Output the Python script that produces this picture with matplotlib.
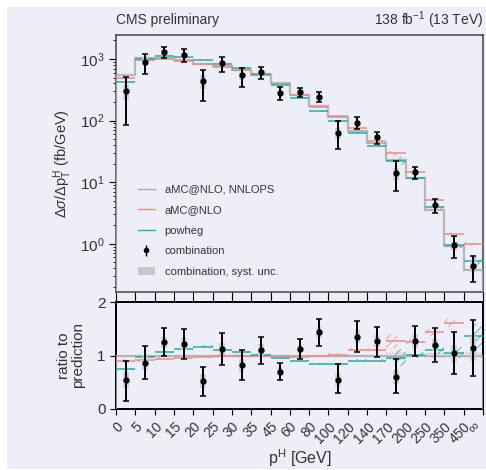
import numpy as np
import matplotlib
matplotlib.use('Agg')
import matplotlib.pyplot as plt
import matplotlib.patches as patches
import matplotlib.transforms as mtransforms
from matplotlib.lines import Line2D

plt.rcParams['font.family'] = ['Liberation Sans', 'DejaVu Sans']
plt.rcParams['mathtext.fontset'] = 'custom'
plt.rcParams['mathtext.rm'] = 'Liberation Sans'
plt.rcParams['mathtext.it'] = 'Liberation Sans:italic'
plt.rcParams['hatch.linewidth'] = 0.7

# bin edges of p_T^H (GeV), drawn equally spaced
bin_labels = ['0', '5', '10', '15', '20', '25', '30', '35', '45', '60', '80',
              '100', '120', '140', '170', '200', '250', '350', '450', '\u221e']

# measured cross section (fb/GeV) and relative errors
data = [300, 903, 1316, 1160, 436, 848, 540, 611, 281, 293, 245, 62, 93, 54, 14, 14.8, 4.25, 0.946, 0.43]
err_up = [0.67, 0.35, 0.21, 0.23, 0.51, 0.26, 0.34, 0.23, 0.23, 0.17, 0.175, 0.57, 0.22, 0.21, 0.55, 0.21, 0.26, 0.39, 0.47]
err_dn = [0.72, 0.36, 0.21, 0.23, 0.52, 0.27, 0.34, 0.23, 0.23, 0.17, 0.175, 0.44, 0.21, 0.23, 0.49, 0.23, 0.26, 0.37, 0.45]
syst = [0.28, 0.15, 0.08, 0.09, 0.25, 0.10, 0.15, 0.10, 0.09, 0.07, 0.07, 0.20, 0.09, 0.09, 0.22, 0.10, 0.10, 0.15, 0.20]

# predictions (fb/GeV)
nnlops = [555, 1043, 1056, 959, 834, 757, 658, 555, 401, 262, 171, 115, 69, 42.5, 23.3, 11.6, 3.55, 0.91, 0.38]
amcnlo = [500, 954, 987, 921, 817, 749, 658, 555, 397, 257, 169, 117, 76.6, 47.2, 29.6, 14.6, 5.08, 1.46, 0.99]
powheg = [416, 1012, 1130, 1084, 972, 833, 704, 561, 385, 236, 144, 97, 62.4, 38.3, 22.4, 11.7, 3.9, 0.96, 0.52]
# relative uncertainties of predictions
nnlops_unc = [0.03, 0.02, 0.02, 0.02, 0.02, 0.02, 0.02, 0.02, 0.02, 0.02, 0.02, 0.02, 0.03, 0.03, 0.08, 0.03, 0.04, 0.05, 0.06]
amcnlo_unc = [0.03, 0.03, 0.03, 0.03, 0.03, 0.03, 0.02, 0.02, 0.02, 0.02, 0.02, 0.03, 0.03, 0.03, 0.10, 0.04, 0.04, 0.05, 0.08]
powheg_unc = [0.02, 0.02, 0.02, 0.02, 0.02, 0.02, 0.02, 0.02, 0.02, 0.02, 0.02, 0.02, 0.03, 0.03, 0.16, 0.05, 0.07, 0.10, 0.16]

c_bg = '#EDEEF7'
c_grey = '#AAAAAA'
c_red = '#F08A8A'
c_teal = '#22B0A8'
c_text = '#333333'

data = np.array(data)
nnlops = np.array(nnlops)
amcnlo = np.array(amcnlo)
powheg = np.array(powheg)
nb = len(data)
edges = np.arange(nb + 1)
centers = edges[:-1] + 0.5

fig = plt.figure(figsize=(4.86, 4.70), dpi=100, facecolor='white')
fig.patches.append(patches.Rectangle((7 / 486, 1 / 470), 1, 462 / 470, transform=fig.transFigure,
                                     fc=c_bg, ec='none', zorder=-10))
ax = fig.add_axes([116 / 486, 1 - 292 / 470, 367 / 486, 257 / 470], facecolor=c_bg)
rax = fig.add_axes([116 / 486, 1 - 409 / 470, 367 / 486, 107 / 470], facecolor=c_bg)


def bands(a, ref, vals, unc, color, x0, x1, hatch):
    for i in range(nb):
        v = vals[i] / ref[i]
        a.add_patch(patches.Rectangle((edges[i] + x0, v * (1 - unc[i])), x1 - x0, 2 * v * unc[i],
                                      fill=False, hatch=hatch, ec=color, lw=0, alpha=0.8, zorder=2))


def draw(a, ref):
    bands(a, ref, nnlops, nnlops_unc, c_grey, 0, 1, '.....')
    bands(a, ref, amcnlo, amcnlo_unc, c_red, 0, 0.55, '////')
    bands(a, ref, powheg, powheg_unc, c_teal, 0.45, 1, '////')
    a.stairs(nnlops / ref, edges, color=c_grey, lw=1.6, alpha=0.8, zorder=3)
    a.hlines(amcnlo / ref, edges[:-1], edges[1:], color=c_red, lw=1.1, zorder=3)
    a.hlines(powheg / ref, edges[:-1], edges[1:], color=c_teal, lw=1.1, zorder=3)
    d = data / ref
    for i in range(nb):
        a.add_patch(patches.Rectangle((centers[i] - 0.15, d[i] * (1 - syst[i])), 0.3, 2 * d[i] * syst[i],
                                      fc='#C8C8C8', ec='none', alpha=0.8, zorder=4))
    a.errorbar(centers, d, yerr=[d * np.array(err_dn), d * np.array(err_up)], fmt='o', color='black',
               ms=3.5, lw=1.4, capsize=2.2, capthick=1.1, zorder=5)


draw(ax, np.ones(nb))
ax.set_yscale('log')
ax.set_ylim(0.165, 2450)
ax.set_xlim(0, nb)
ax.set_xticks(edges)
ax.set_xticklabels([])
ax.tick_params(axis='both', which='both', direction='out', labelsize=11, labelcolor=c_text)
ax.tick_params(axis='y', which='major', length=5)
ax.tick_params(axis='y', which='minor', length=2.5)
ax.tick_params(axis='x', length=4)
for s in ax.spines.values():
    s.set_color('#444444')
    s.set_linewidth(1.1)
ax.set_ylabel(r'$\Delta\sigma/\Delta \mathrm{p}_\mathrm{T}^\mathrm{H}$ (fb/GeV)', fontsize=10.5, color=c_text, labelpad=4)

draw(rax, nnlops)
rax.set_ylim(0, 2)
rax.set_xlim(0, nb)
rax.set_yticks([0, 1, 2])
rax.set_xticks(edges)
rax.set_xticklabels(bin_labels, rotation=45, ha='right', va='top', rotation_mode='anchor', fontsize=10)
rax.tick_params(axis='both', direction='out', labelsize=11, length=4, top=True, labelcolor=c_text)
rax.tick_params(axis='x', labelsize=10)
# keep the last label inside the canvas
last = rax.get_xticklabels()[-1]
last.set_transform(last.get_transform() + mtransforms.ScaledTranslation(-8 / 72, 0, fig.dpi_scale_trans))
for s in rax.spines.values():
    s.set_color('black')
    s.set_linewidth(1.4)
rax.set_ylabel('ratio to\nprediction', fontsize=11, color=c_text, labelpad=9, linespacing=1.0)
rax.set_xlabel(r'$\mathrm{p}^\mathrm{H}$ [GeV]', fontsize=11.5, color=c_text, labelpad=1)

handles = [Line2D([], [], color=c_grey, lw=1),
           Line2D([], [], color=c_red, lw=1),
           Line2D([], [], color=c_teal, lw=1),
           ax.errorbar([], [], yerr=[], fmt='o', color='black', ms=3, lw=1, capsize=1.5),
           patches.Patch(fc='#C8C8C8', ec='none')]
labels = ['aMC@NLO, NNLOPS', 'aMC@NLO', 'powheg', 'combination', 'combination, syst. unc.']
ax.legend(handles, labels, loc='upper left', bbox_to_anchor=(0.045, 0.44), frameon=False, fontsize=8,
          labelspacing=0.95, handlelength=1.5, handletextpad=0.9, borderpad=0, labelcolor=c_text)

fig.text(116 / 486, 1 - 20 / 470, 'CMS preliminary', fontsize=10, color=c_text, va='center', ha='left')
fig.text(483 / 486, 1 - 20 / 470, r'138 fb$^{-1}$ (13 TeV)', fontsize=10, color=c_text, va='center', ha='right')

fig.savefig('out.png', dpi=100, facecolor=fig.get_facecolor())
